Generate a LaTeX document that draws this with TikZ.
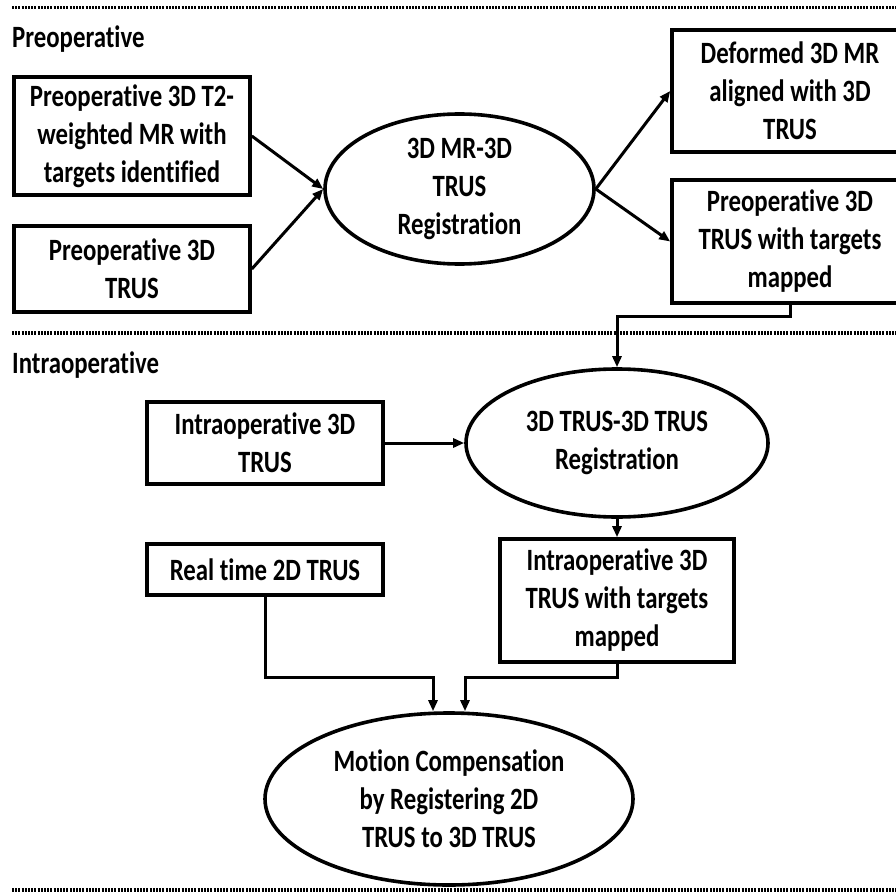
\documentclass[tikz,border=0pt]{standalone}
\usepackage{fontspec}
\setmainfont{Carlito}[FakeStretch=0.8, Ligatures=NoCommon]
\usetikzlibrary{arrows.meta,shapes.geometric}
\tikzset{
  txt/.style={font=\fontsize{31}{38}\selectfont\bfseries, align=center, inner sep=0pt},
  boxnode/.style={txt, draw, line width=3.6pt, rectangle},
  ellnode/.style={txt, draw, line width=3.6pt, ellipse},
  arr/.style={line width=3pt, -{Triangle[length=11pt,width=9pt]}},
  dotline/.style={line width=3.5pt, dash pattern=on 2pt off 1.2pt},
  sectlabel/.style={font=\fontsize{31}{36}\selectfont\bfseries, inner sep=0pt, anchor=base west}
}
\begin{document}
\begin{tikzpicture}[x=1pt,y=-1pt]
\useasboundingbox (0,0) rectangle (896,896);
% section separators
\draw[dotline] (12,7.5) -- (896,7.5);
\draw[dotline] (12,333) -- (896,333);
\draw[dotline] (12,890) -- (896,890);
\node[sectlabel] (lpre) at (12,48) {Preoperative};
\node[sectlabel] (lintra) at (12,373) {Intraoperative};
% preoperative
\node[boxnode, minimum width=236pt, minimum height=118pt] (pre1) at (132,136) {Preoperative 3D T2-\\weighted MR with\\targets identified};
\node[boxnode, minimum width=236pt, minimum height=86pt] (pre2) at (132,269) {Preoperative 3D\\TRUS};
\node[ellnode, minimum width=269pt, minimum height=150pt] (reg1) at (459.5,189) {3D MR-3D\\TRUS\\Registration};
\node[boxnode, minimum width=236pt, minimum height=122pt] (def) at (790,91) {Deformed 3D MR\\aligned with 3D\\TRUS};
\node[boxnode, minimum width=236pt, minimum height=123pt] (pre3) at (790,241.5) {Preoperative 3D\\TRUS with targets\\mapped};
\draw[arr] (pre1.east) -- (reg1.west);
\draw[arr] (pre2.east) -- (reg1.west);
\draw[arr] (reg1.east) -- (def.west);
\draw[arr] (reg1.east) -- (pre3.west);
% intraoperative
\node[boxnode, minimum width=236pt, minimum height=82pt] (intra1) at (265,443) {Intraoperative 3D\\TRUS};
\node[ellnode, minimum width=302pt, minimum height=148pt] (reg2) at (617,443) {3D TRUS-3D TRUS\\Registration};
\node[boxnode, minimum width=234pt, minimum height=123pt] (intra2) at (617,600.5) {Intraoperative 3D\\TRUS with targets\\mapped};
\node[boxnode, minimum width=236pt, minimum height=51pt] (rt) at (265,569.5) {Real time 2D TRUS};
\node[ellnode, minimum width=368pt, minimum height=172pt] (mc) at (449,799) {Motion Compensation\\by Registering 2D\\TRUS to 3D TRUS};
\draw[arr] (pre3.south) -- (pre3.south |- 0,316) -| (reg2.north);
\draw[arr] (intra1.east) -- (reg2.west);
\draw[arr] (reg2.south) -- (intra2.north);
\draw[arr] (rt.south) -- (rt.south |- 0,677) -| ([xshift=-16pt]mc.north);
\draw[arr] (intra2.south) -- (intra2.south |- 0,677) -| ([xshift=16pt]mc.north);
\end{tikzpicture}
\end{document}
